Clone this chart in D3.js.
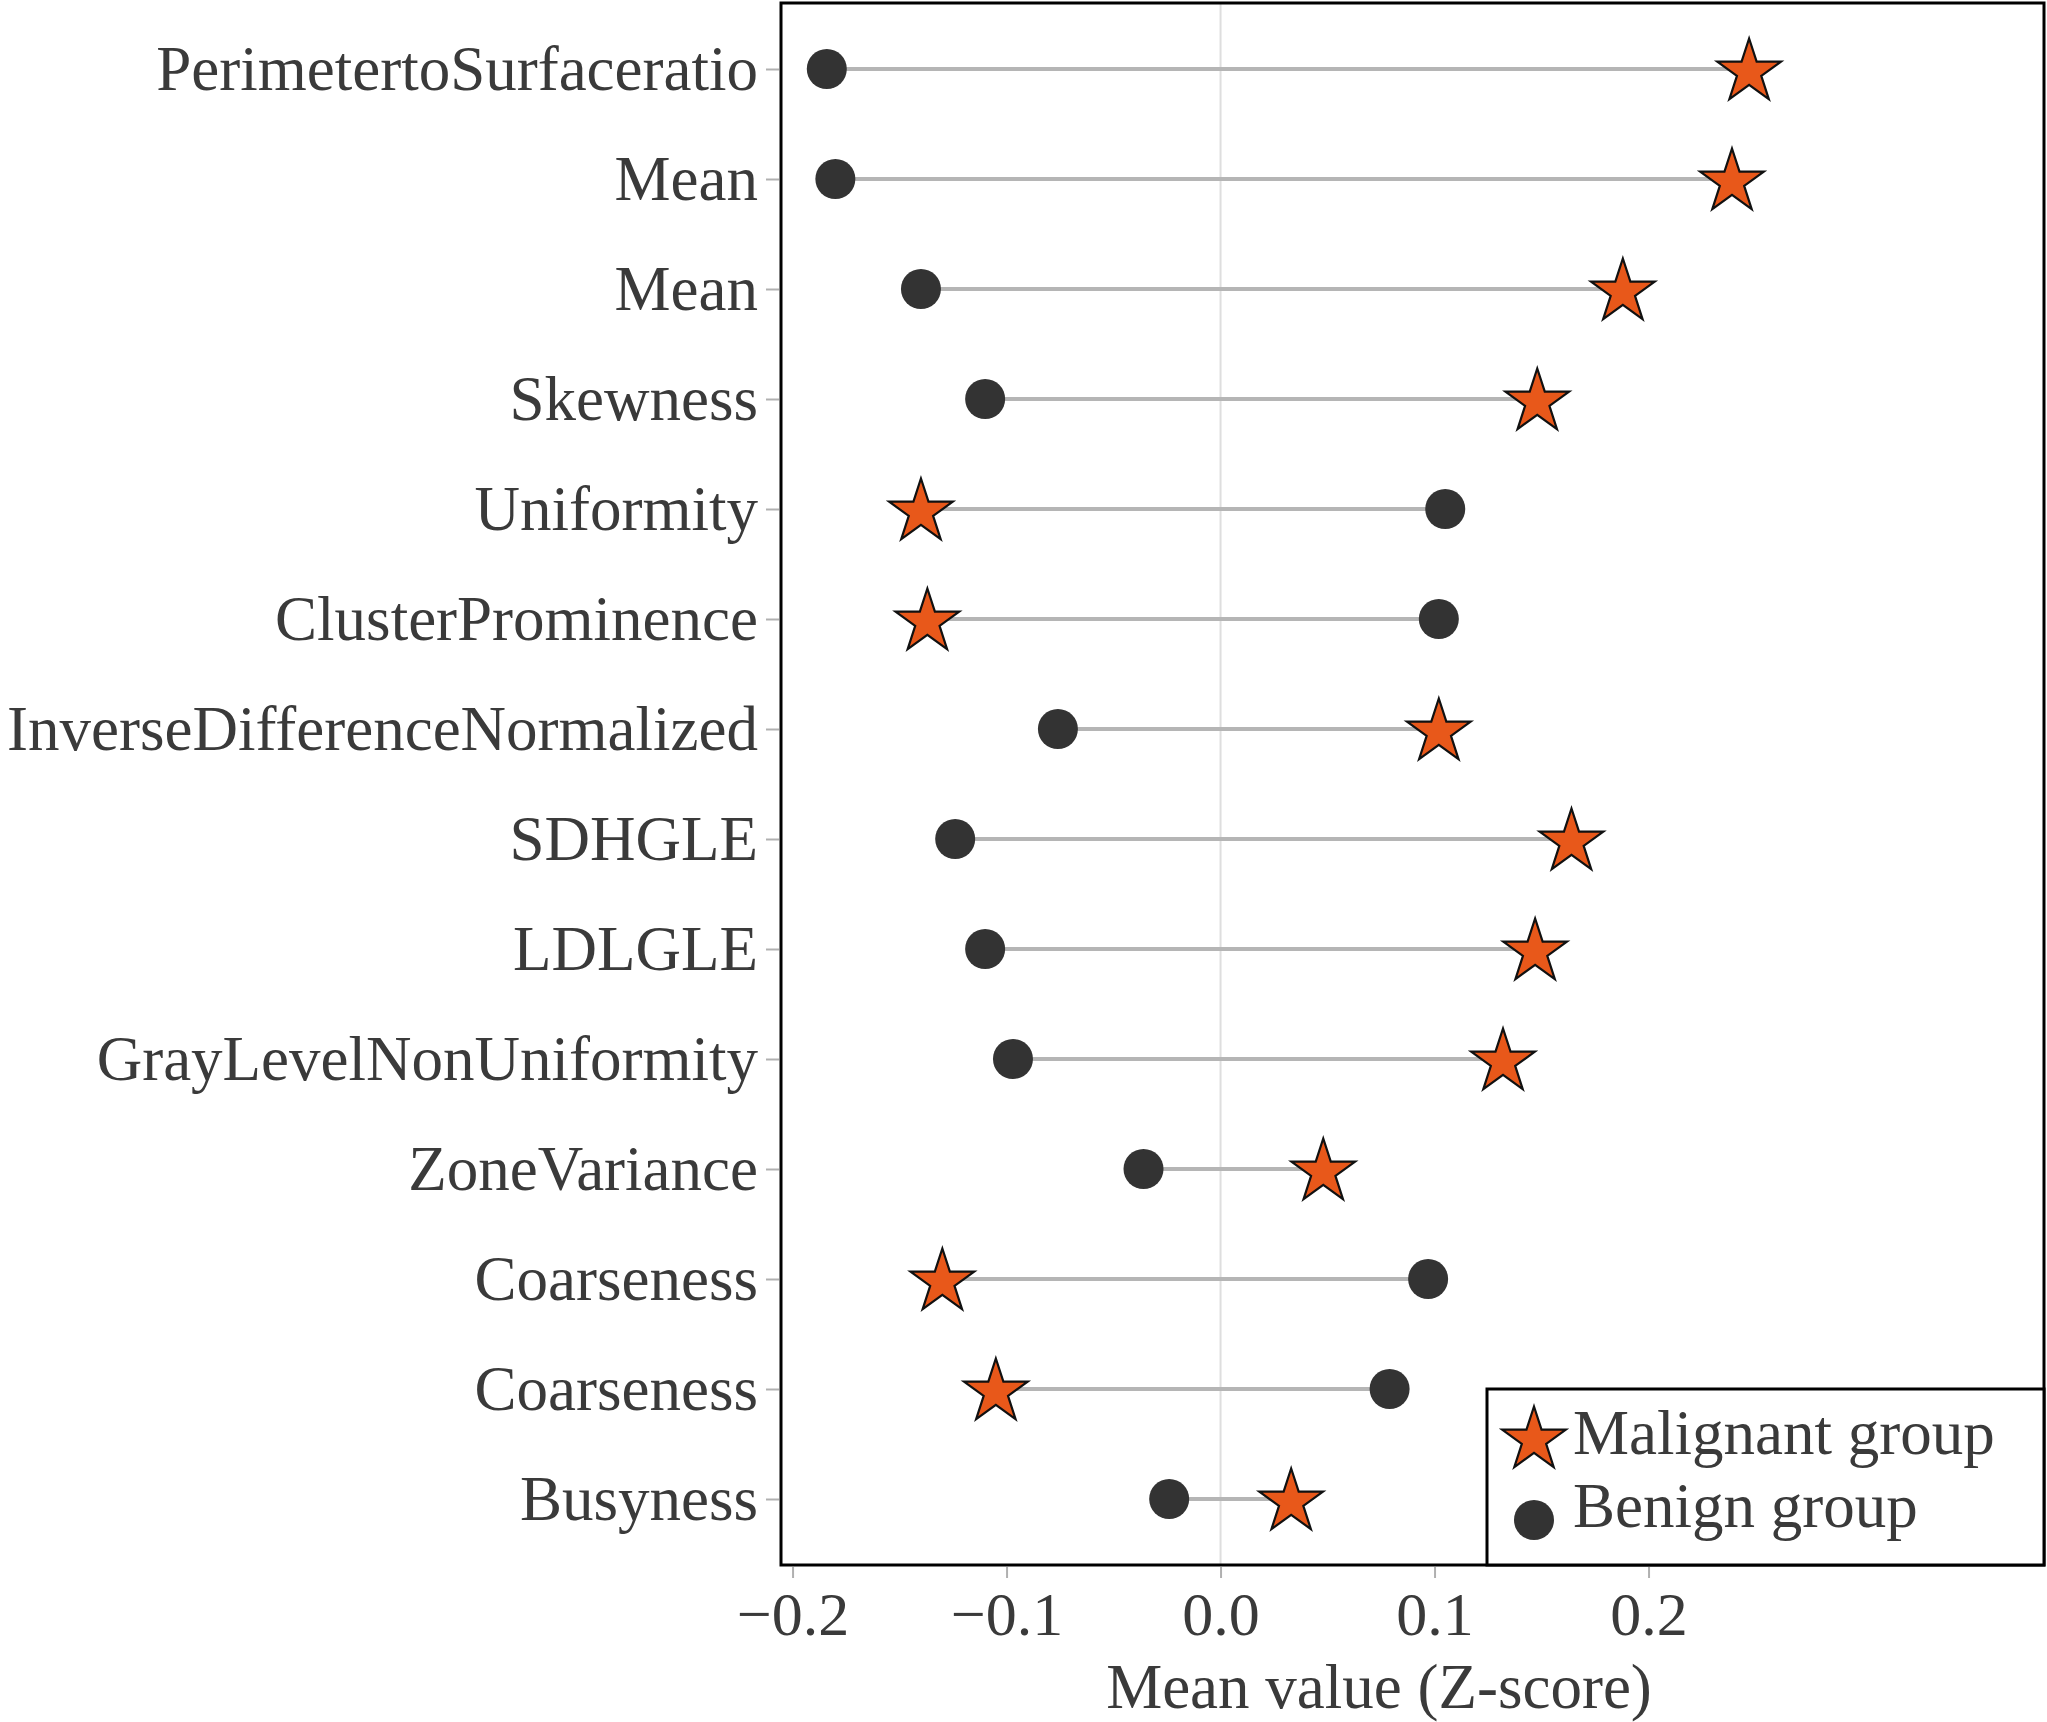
<!DOCTYPE html>
<html>
<head>
<meta charset="utf-8">
<script src="https://d3js.org/d3.v7.min.js"></script>
<style>
  body { margin: 0; background: #fff; }
  text { font-family: "Liberation Serif", "Times New Roman", serif; }
</style>
</head>
<body>
<script>
// features, top to bottom
var features = ["PerimetertoSurfaceratio", "Mean", "Mean", "Skewness", "Uniformity",
                "ClusterProminence", "InverseDifferenceNormalized", "SDHGLE", "LDLGLE",
                "GrayLevelNonUniformity", "ZoneVariance", "Coarseness", "Coarseness", "Busyness"];

// mean z-scores
var malignant = [0.247, 0.239, 0.188, 0.148, -0.140, -0.137, 0.102, 0.164, 0.147, 0.132, 0.048, -0.130, -0.105, 0.033];
var benign    = [-0.184, -0.180, -0.140, -0.110, 0.105, 0.102, -0.076, -0.124, -0.110, -0.097, -0.036, 0.097, 0.079, -0.024];

var xTicks = [-0.2, -0.1, 0.0, 0.1, 0.2];
var legendLabels = ["Malignant group", "Benign group"];

var w = 2047, h = 1722;
var pLeft = 781, pRight = 2044, pTop = 3, pBottom = 1565;

var svg = d3.select("body").append("svg")
    .attr("width", w)
    .attr("height", h);

var x = d3.scaleLinear()
    .domain([-0.2054, 0.3848])
    .range([pLeft, pRight]);

var y = d3.scalePoint()
    .domain(d3.range(features.length))
    .range([pTop, pBottom])
    .padding(0.6);

var orange = "#e8581a";
var dark = "#333333";
var starPath = d3.symbol().type(d3.symbolStar).size(1260)();
var dotPath = d3.symbol().type(d3.symbolCircle).size(1257)();

// zero line
svg.append("line")
    .attr("x1", x(0)).attr("x2", x(0))
    .attr("y1", pTop).attr("y2", pBottom)
    .attr("stroke", "#dedede")
    .attr("stroke-width", 2);

// segments
svg.append("g").selectAll("line")
    .data(features)
    .enter().append("line")
    .attr("x1", (d, i) => x(benign[i]))
    .attr("x2", (d, i) => x(malignant[i]))
    .attr("y1", (d, i) => y(i))
    .attr("y2", (d, i) => y(i))
    .attr("stroke", "#b5b5b5")
    .attr("stroke-width", 4);

// benign dots
svg.append("g").selectAll("path")
    .data(benign)
    .enter().append("path")
    .attr("d", dotPath)
    .attr("transform", (d, i) => "translate(" + x(d) + "," + y(i) + ")")
    .attr("fill", dark);

// malignant stars
svg.append("g").selectAll("path")
    .data(malignant)
    .enter().append("path")
    .attr("d", starPath)
    .attr("transform", (d, i) => "translate(" + x(d) + "," + (y(i) + 3) + ")")
    .attr("fill", orange)
    .attr("stroke", "#111")
    .attr("stroke-width", 2.2)
    .attr("stroke-linejoin", "miter");

// y axis
var yAxis = svg.append("g")
    .attr("transform", "translate(" + (pLeft - 2) + ",0)")
    .call(d3.axisLeft(y).tickFormat(i => features[i]).tickSize(13).tickPadding(8));
yAxis.select(".domain").remove();
yAxis.selectAll(".tick line").attr("stroke", "#b0b0b0").attr("stroke-width", 2);
yAxis.selectAll(".tick text")
    .attr("fill", "#3a3a3a")
    .style("font-size", "63px")
    .attr("dy", "0.33em");

// x axis
var xAxis = svg.append("g")
    .attr("transform", "translate(0," + (pBottom + 2) + ")")
    .call(d3.axisBottom(x).tickValues(xTicks).tickFormat(d3.format(".1f")).tickSize(11).tickPadding(12));
xAxis.select(".domain").remove();
xAxis.selectAll(".tick line").attr("stroke", "#b0b0b0").attr("stroke-width", 2);
xAxis.selectAll(".tick text")
    .attr("fill", "#3a3a3a")
    .style("font-size", "62px")
    .attr("dy", "0.72em");

// axis title
svg.append("text")
    .attr("x", 1379)
    .attr("y", 1708)
    .attr("text-anchor", "middle")
    .attr("fill", "#3a3a3a")
    .style("font-size", "63px")
    .text("Mean value (Z-score)");

// panel border
svg.append("rect")
    .attr("x", pLeft).attr("y", pTop)
    .attr("width", pRight - pLeft).attr("height", pBottom - pTop)
    .attr("fill", "none")
    .attr("stroke", "#000")
    .attr("stroke-width", 3);

// legend
var lg = svg.append("g");
lg.append("rect")
    .attr("x", 1487).attr("y", 1389)
    .attr("width", pRight - 1487).attr("height", pBottom - 1389)
    .attr("fill", "#fff")
    .attr("stroke", "#000")
    .attr("stroke-width", 3);
lg.append("path")
    .attr("d", starPath)
    .attr("transform", "translate(1534,1440)")
    .attr("fill", orange)
    .attr("stroke", "#111")
    .attr("stroke-width", 2.2);
lg.append("path")
    .attr("d", dotPath)
    .attr("transform", "translate(1534,1520)")
    .attr("fill", dark);
lg.selectAll("text.lab")
    .data(legendLabels)
    .enter().append("text")
    .attr("class", "lab")
    .attr("x", 1573)
    .attr("y", (d, i) => i === 0 ? 1454 : 1527)
    .attr("fill", "#3a3a3a")
    .style("font-size", "63px")
    .text(d => d);
</script>
</body>
</html>
